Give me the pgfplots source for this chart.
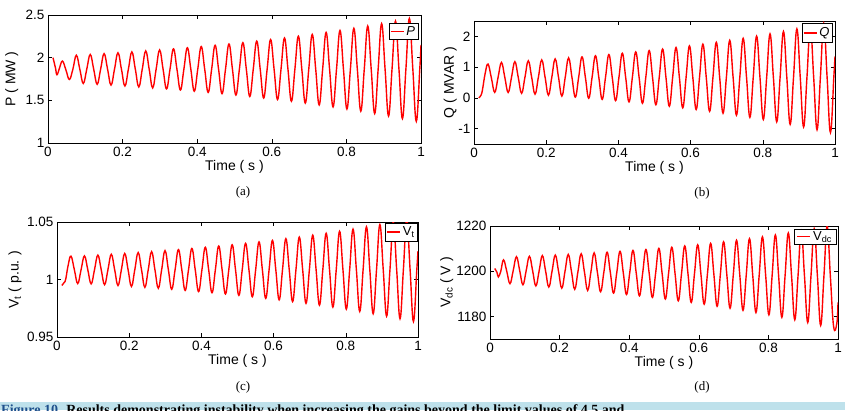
\documentclass[border=0pt]{standalone}
\usepackage{pgfplots}
\pgfplotsset{compat=1.18}
\usepackage{pgfplotstable}
\usepackage{fontspec}
\setmainfont{Liberation Sans}
\newfontfamily\serifcap{Liberation Serif}
\definecolor{capblue}{RGB}{190,225,235}
\definecolor{capdark}{RGB}{30,80,140}

\pgfplotstableread{
t P Q Vt Vdc
0.0134 2.000 0.000 0.9948 1201.2
0.0200 1.880 0.100 0.9975 1199.5
0.0240 1.800 0.300 1.0000 1197.5
0.0310 1.880 0.800 1.0125 1200.0
0.0388 1.960 1.100 1.0203 1205.0
0.0481 1.855 0.650 1.0085 1200.0
0.0574 1.745 0.180 0.9965 1194.5
0.0667 1.865 0.670 1.0085 1200.3
0.0760 2.028 1.150 1.0205 1206.4
0.0853 1.865 0.670 1.0085 1200.3
0.0946 1.698 0.177 0.9962 1194.0
0.1039 1.865 0.670 1.0085 1200.2
0.1132 2.037 1.177 1.0212 1206.6
0.1225 1.865 0.670 1.0085 1200.2
0.1318 1.688 0.150 0.9955 1193.5
0.1411 1.865 0.670 1.0085 1200.1
0.1504 2.047 1.205 1.0219 1206.9
0.1597 1.865 0.670 1.0085 1200.1
0.1690 1.679 0.121 0.9948 1193.0
0.1783 1.865 0.670 1.0085 1200.0
0.1876 2.057 1.234 1.0226 1207.1
0.1969 1.865 0.670 1.0085 1200.0
0.2062 1.668 0.090 0.9940 1192.5
0.2155 1.865 0.670 1.0085 1199.9
0.2248 2.067 1.266 1.0234 1207.4
0.2341 1.865 0.670 1.0085 1199.9
0.2434 1.657 0.058 0.9932 1192.0
0.2527 1.865 0.670 1.0085 1199.8
0.2620 2.078 1.299 1.0242 1207.7
0.2713 1.865 0.670 1.0085 1199.7
0.2806 1.646 0.024 0.9924 1191.5
0.2899 1.865 0.670 1.0085 1199.6
0.2992 2.090 1.333 1.0251 1208.1
0.3085 1.865 0.670 1.0085 1199.6
0.3178 1.634 -0.012 0.9915 1190.9
0.3271 1.865 0.670 1.0085 1199.5
0.3364 2.103 1.370 1.0260 1208.4
0.3457 1.865 0.670 1.0085 1199.5
0.3550 1.621 -0.049 0.9905 1190.3
0.3643 1.865 0.670 1.0085 1199.4
0.3736 2.116 1.409 1.0270 1208.8
0.3829 1.865 0.670 1.0085 1199.4
0.3922 1.607 -0.089 0.9895 1189.7
0.4015 1.865 0.670 1.0085 1199.3
0.4108 2.130 1.450 1.0280 1209.2
0.4201 1.865 0.670 1.0085 1199.3
0.4294 1.593 -0.131 0.9885 1189.1
0.4387 1.865 0.670 1.0085 1199.2
0.4480 2.145 1.493 1.0291 1209.6
0.4573 1.865 0.670 1.0085 1199.2
0.4666 1.578 -0.176 0.9874 1188.4
0.4759 1.865 0.670 1.0085 1199.1
0.4852 2.160 1.539 1.0302 1210.1
0.4945 1.865 0.670 1.0085 1199.1
0.5038 1.562 -0.223 0.9862 1187.7
0.5131 1.865 0.670 1.0085 1199.0
0.5224 2.176 1.587 1.0314 1210.6
0.5317 1.865 0.670 1.0085 1199.0
0.5410 1.545 -0.272 0.9850 1186.9
0.5503 1.865 0.670 1.0085 1198.9
0.5596 2.194 1.638 1.0327 1211.2
0.5689 1.865 0.670 1.0085 1198.9
0.5782 1.527 -0.324 0.9836 1186.2
0.5875 1.865 0.670 1.0085 1198.8
0.5968 2.212 1.691 1.0340 1211.7
0.6061 1.865 0.670 1.0085 1198.7
0.6154 1.509 -0.379 0.9823 1185.4
0.6247 1.865 0.670 1.0085 1198.6
0.6340 2.231 1.748 1.0355 1212.3
0.6433 1.865 0.670 1.0085 1198.6
0.6526 1.489 -0.438 0.9808 1184.5
0.6619 1.865 0.670 1.0085 1198.5
0.6712 2.251 1.808 1.0369 1213.0
0.6805 1.865 0.670 1.0085 1198.5
0.6898 1.468 -0.499 0.9793 1183.6
0.6991 1.865 0.670 1.0085 1198.4
0.7084 2.273 1.871 1.0385 1213.7
0.7177 1.865 0.670 1.0085 1198.4
0.7270 1.446 -0.564 0.9777 1182.7
0.7363 1.865 0.670 1.0085 1198.3
0.7456 2.295 1.937 1.0402 1214.4
0.7549 1.865 0.670 1.0085 1198.3
0.7642 1.423 -0.632 0.9760 1181.7
0.7735 1.865 0.670 1.0085 1198.2
0.7828 2.319 2.008 1.0419 1215.2
0.7921 1.865 0.670 1.0085 1198.2
0.8014 1.398 -0.704 0.9742 1180.7
0.8107 1.865 0.670 1.0085 1198.1
0.8200 2.344 2.082 1.0438 1216.0
0.8293 1.865 0.670 1.0085 1198.1
0.8386 1.373 -0.780 0.9722 1179.6
0.8479 1.865 0.670 1.0085 1198.0
0.8572 2.371 2.160 1.0458 1216.9
0.8665 1.865 0.670 1.0085 1198.0
0.8758 1.345 -0.861 0.9702 1178.5
0.8851 1.865 0.670 1.0085 1197.9
0.8944 2.399 2.243 1.0478 1217.8
0.9037 1.865 0.670 1.0085 1197.8
0.9130 1.316 -0.946 0.9681 1177.3
0.9223 1.865 0.670 1.0085 1197.8
0.9316 2.429 2.330 1.0500 1218.8
0.9409 1.865 0.670 1.0085 1197.7
0.9502 1.286 -1.035 0.9659 1176.0
0.9595 1.865 0.670 1.0085 1197.7
0.9688 2.460 2.422 1.0523 1219.9
0.9781 1.865 0.670 1.0085 1197.6
0.9874 1.254 -1.130 0.9635 1175.5
0.9967 1.865 0.670 1.0085 1177.0
1.0000 2.150 1.350 1.0247 1186.2
}\datatab

\pgfplotsset{
  myax/.style={
    scale only axis, anchor=south west,
    xmin=0, xmax=1, xtick={0,0.2,0.4,0.6,0.8,1},
    tick align=inside, major tick length=4pt,
    tick style={black, line width=0.5pt},
    axis line style={line width=0.8pt},
    tick label style={font=\fontsize{13.5}{14}\selectfont},
    xticklabel style={yshift=-1pt},
    /pgf/number format/assume math mode=true,
    /pgf/number format/1000 sep={},
    xlabel={Time ( s )},
    every axis x label/.style={at={(axis description cs:0.5,0)}, anchor=center, yshift=-24pt, font=\fontsize{14}{15}\selectfont},
    every axis y label/.style={rotate=90, anchor=center, font=\fontsize{14}{15}\selectfont},
    legend style={anchor=north east, draw=black, line width=0.7pt, fill=white,
      font=\fontsize{13}{14}\selectfont, inner xsep=1pt, inner ysep=0.5pt,
      cells={anchor=west}},
    legend image code/.code={\draw[red, line width=1.4pt] (0pt,0pt) -- (13pt,0pt);},
  },
  myline/.style={red, line width=1.4pt, smooth, tension=0.7},
}

\begin{document}
\begin{tikzpicture}
\useasboundingbox (0,0) rectangle (845pt,410pt);

% (a)
\begin{axis}[myax, at={(48pt,267pt)}, width=373pt, height=128pt,
  ymin=1, ymax=2.5, ytick={1,1.5,2,2.5},
  ylabel={P ( MW )}, ylabel style={at={(axis description cs:-0.097,0.5)}},
  legend style={at={(0.993,0.935)}}]
\addplot[myline] table[x=t,y=P]{\datatab};
\addlegendentry{\textit{P}}
\end{axis}

% (b)
\begin{axis}[myax, at={(474pt,266pt)}, width=361pt, height=123pt,
  ymin=-1.5, ymax=2.5, ytick={-1,0,1,2},
  ylabel={Q ( MVAR )}, ylabel style={at={(axis description cs:-0.066,0.5)}},
  legend style={at={(0.994,0.981)}, inner ysep=2pt}]
\addplot[myline] table[x=t,y=Q]{\datatab};
\addlegendentry{\textit{Q}}
\end{axis}

% (c)
\begin{axis}[myax, at={(57pt,73pt)}, width=361pt, height=115pt,
  ymin=0.95, ymax=1.05, ytick={0.95,1,1.05},
  ylabel={V\textsubscript{t} ( p.u. )}, ylabel style={at={(axis description cs:-0.116,0.5)}},
  legend style={at={(1.0,0.995)}, inner ysep=2pt}]
\addplot[myline] table[x=t,y=Vt]{\datatab};
\addlegendentry{V\textsubscript{t}}
\end{axis}

% (d)
\begin{axis}[myax, at={(490pt,71pt)}, width=348pt, height=113pt,
  ymin=1170, ymax=1220, ytick={1180,1200,1220},
  ylabel={V\textsubscript{dc} ( V )}, ylabel style={at={(axis description cs:-0.124,0.5)}},
  legend style={at={(0.995,0.977)}, inner xsep=2pt}]
\addplot[myline] table[x=t,y=Vdc]{\datatab};
\addlegendentry{V\textsubscript{dc}}
\end{axis}

\node[font=\serifcap\fontsize{13}{14}\selectfont] at (243pt,218pt) {(a)};
\node[font=\serifcap\fontsize{13}{14}\selectfont] at (702pt,217pt) {(b)};
\node[font=\serifcap\fontsize{13}{14}\selectfont] at (243pt,23pt) {(c)};
\node[font=\serifcap\fontsize{13}{14}\selectfont] at (702pt,23pt) {(d)};

\fill[capblue] (0pt,0pt) rectangle (845pt,8.5pt);
\begin{scope}
\clip (0pt,0pt) rectangle (845pt,8.5pt);
\node[anchor=base west, inner sep=0pt, font=\serifcap\fontsize{14}{15}\selectfont] at (1pt,-4.5pt)
  {\textcolor{capdark}{\textbf{Figure 10.}} \textbf{Results demonstrating instability when increasing the gains beyond the limit values of 4.5 and}};
\end{scope}
\end{tikzpicture}
\end{document}
